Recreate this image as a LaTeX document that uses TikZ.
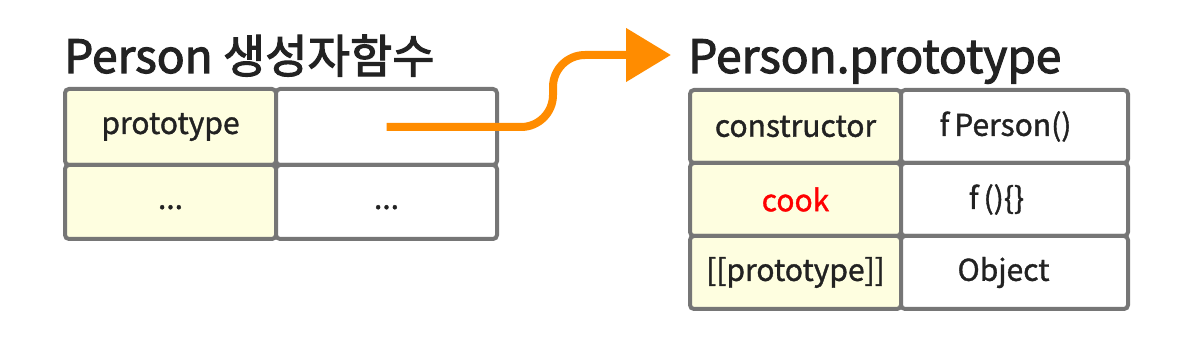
\documentclass[tikz,border=0pt]{standalone}
\usepackage{fontspec}
\setmainfont{Noto Sans CJK KR}
\newfontfamily\cellfont[RawFeature={embolden=1.2}]{Noto Sans CJK KR}
\newfontfamily\headfont[RawFeature={embolden=2.4}]{Noto Sans CJK KR}
\usetikzlibrary{positioning, arrows.meta}
\definecolor{cellgray}{RGB}{118,118,118}
\definecolor{keyfill}{RGB}{254,254,224}
\definecolor{arroworange}{RGB}{255,140,0}
\definecolor{textdark}{RGB}{34,34,34}
\tikzset{
    cell/.style={draw=cellgray, line width=4pt, rounded corners=4pt, outer sep=0pt, inner sep=0pt,
                 font=\cellfont\fontsize{30}{34}\selectfont, text=textdark},
    keycell/.style={cell, fill=keyfill, minimum width=211pt},
    valcell/.style={cell, fill=white},
    heading/.style={font=\headfont\fontsize{46}{52}\selectfont, text=textdark, anchor=base west, inner sep=0pt},
    link/.style={draw=arroworange, line width=8pt, rounded corners=32pt,
                 -{Triangle[length=45pt, width=52pt]}}
}

\begin{document}
\begin{tikzpicture}[x=1pt, y=-1pt]
    \useasboundingbox (0,0) rectangle (1200,347);

    % constructor function
    \node[heading] (ctorTitle) at (64,73) {Person 생성자함수};
    \node[keycell, minimum height=76pt] (ctorKey1) at (170.5,127) {prototype};
    \node[valcell, minimum width=221pt, minimum height=76pt, right=0pt of ctorKey1] (ctorVal1) {};
    \node[keycell, minimum height=74pt, below=0pt of ctorKey1] (ctorKey2) {\vphantom{prototype}...};
    \node[valcell, minimum width=221pt, minimum height=74pt, right=0pt of ctorKey2] (ctorVal2) {\vphantom{prototype}...};

    % prototype object
    \node[heading] (protoTitle) at (688,73) {Person.prototype};
    \node[keycell, minimum height=73pt] (protoKey1) at (795.5,126.5) {constructor};
    \node[valcell, minimum width=227pt, minimum height=73pt, right=0pt of protoKey1] (protoVal1) {\hspace{-18pt}f\,Person()};
    \node[keycell, minimum height=73pt, below=0pt of protoKey1, text=red] (protoKey2) {cook};
    \node[valcell, minimum width=227pt, minimum height=73pt, right=0pt of protoKey2] (protoVal2) {\hspace{-36pt}f\,()\{\}};
    \node[keycell, minimum height=73pt, below=0pt of protoKey2] (protoKey3) {[[prototype]]};
    \node[valcell, minimum width=227pt, minimum height=73pt, right=0pt of protoKey3] (protoVal3) {\hspace{-22pt}Object};

    % link
    \coordinate (linkEnd) at (671,55);
    \draw[link] (ctorVal1.center) -- (553,127) -- (553,55) -- (linkEnd);
\end{tikzpicture}
\end{document}
